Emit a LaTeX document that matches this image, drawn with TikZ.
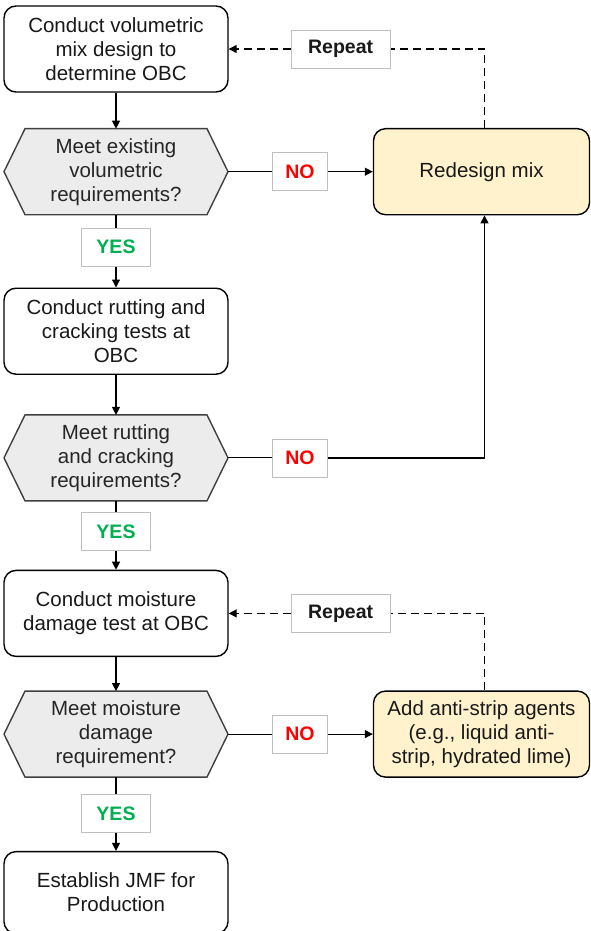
\documentclass[tikz,border=0pt]{standalone}
\usepackage{fontspec}
\setmainfont{Liberation Sans}
\usetikzlibrary{arrows.meta, positioning, backgrounds}
\definecolor{fixfill}{RGB}{255,242,204}
\definecolor{checkfill}{RGB}{236,236,236}
\definecolor{yesgreen}{RGB}{0,176,80}
\definecolor{nored}{RGB}{255,0,0}
\tikzset{
	stepblock/.style={rectangle, rounded corners=12pt, draw=black, line width=1.4pt, fill=white,
		align=center, minimum width=224pt, minimum height=86pt, inner sep=0pt,
		font=\fontsize{20.5}{24}\selectfont, text=black!90},
	fixblock/.style={stepblock, fill=fixfill, minimum width=216pt},
	checkblock/.style={rectangle, align=center, minimum width=224pt,
		minimum height=86pt, inner sep=0pt, outer sep=0pt, font=\fontsize{20.5}{24}\selectfont, text=black!85},
	checkline/.style={draw=black!75, line width=1.4pt, fill=checkfill, line join=miter},
	tagblock/.style={rectangle, draw=black!25, line width=0.8pt, fill=white, minimum height=38pt,
		inner sep=0pt, font=\bfseries\fontsize{19.5}{24}\selectfont},
	yestag/.style={tagblock, minimum width=69pt, text=yesgreen},
	notag/.style={tagblock, minimum width=55pt, text=nored},
	repeattag/.style={tagblock, minimum width=99pt, text=black!90},
	arrow/.style={-{Triangle[length=8pt,width=8pt]}, line width=1.2pt},
	dasharrow/.style={-{Triangle[length=8pt,width=8pt]}, line width=1.2pt, dash pattern=on 8pt off 5pt},
	plainline/.style={line width=1.1pt},
	dashline/.style={line width=1.2pt, dash pattern=on 8pt off 5pt},
}
% hexagon outline behind a decision node
\newcommand{\hexpath}[1]{%
	\path[checkline] (#1.west) -- ([xshift=21pt]#1.north west) -- ([xshift=-21pt]#1.north east)
		-- (#1.east) -- ([xshift=-21pt]#1.south east) -- ([xshift=21pt]#1.south west) -- cycle;}
\begin{document}
\begin{tikzpicture}[x=1pt, y=-1pt]
	\useasboundingbox (0,0) rectangle (590,931);
	% main column
	\node[stepblock] (mix) at (116,49) {Conduct volumetric\\mix design to\\determine OBC};
	\node[checkblock, below=36pt of mix] (volcheck) {Meet existing\\volumetric\\requirements?};
	\node[yestag, below=13pt of volcheck] (yes_vol) {YES};
	\node[stepblock, below=21pt of yes_vol] (rut) {Conduct rutting and\\cracking tests at\\OBC};
	\node[checkblock, below=40pt of rut] (rutcheck) {Meet rutting\\and cracking\\requirements?};
	\node[yestag, below=11pt of rutcheck] (yes_rut) {YES};
	\node[stepblock, below=19pt of yes_rut] (moist) {Conduct moisture\\damage test at OBC};
	\node[checkblock, below=34pt of moist] (moistcheck) {Meet moisture\\damage\\requirement?};
	\node[yestag, below=17pt of moistcheck] (yes_moist) {YES};
	\node[stepblock, below=18pt of yes_moist, minimum height=82pt] (jmf) {Establish JMF for\\Production};
	\begin{scope}[on background layer]
		\hexpath{volcheck}
		\hexpath{rutcheck}
		\hexpath{moistcheck}
	\end{scope}
	% right side
	\node[notag, right=44pt of volcheck] (no_vol) {NO};
	\node[fixblock, right=45pt of no_vol] (redesign) {Redesign mix};
	\node[repeattag, right=62pt of mix] (rep_mix) {Repeat};
	\node[notag, right=44pt of rutcheck] (no_rut) {NO};
	\node[notag, right=44pt of moistcheck] (no_moist) {NO};
	\node[fixblock, right=45pt of no_moist] (antistrip) {Add anti-strip agents\\(e.g., liquid anti-\\strip, hydrated lime)};
	\node[repeattag, right=62pt of moist] (rep_moist) {Repeat};
	% connectors
	\draw[arrow](mix)--(volcheck);
	\draw[plainline](volcheck)--(yes_vol);\draw[arrow](yes_vol)--(rut);
	\draw[arrow](rut)--(rutcheck);
	\draw[plainline](rutcheck)--(yes_rut);\draw[arrow](yes_rut)--(moist);
	\draw[arrow](moist)--(moistcheck);
	\draw[plainline](moistcheck)--(yes_moist);\draw[arrow](yes_moist)--(jmf);
	\draw[plainline](volcheck.east)--(no_vol.west);\draw[arrow](no_vol)--(redesign);
	\draw[plainline](rutcheck.east)--(no_rut.west);
	\draw[arrow](no_rut.east)-|([xshift=3pt]redesign.south);
	\draw[plainline](moistcheck.east)--(no_moist.west);\draw[arrow](no_moist)--(antistrip);
	\draw[dashline]([xshift=3pt]redesign.north)|-(rep_mix.east);
	\draw[dasharrow](rep_mix.west)--(mix.east);
	\draw[dashline]([xshift=3pt]antistrip.north)|-(rep_moist.east);
	\draw[dasharrow](rep_moist.west)--(moist.east);
\end{tikzpicture}
\end{document}
